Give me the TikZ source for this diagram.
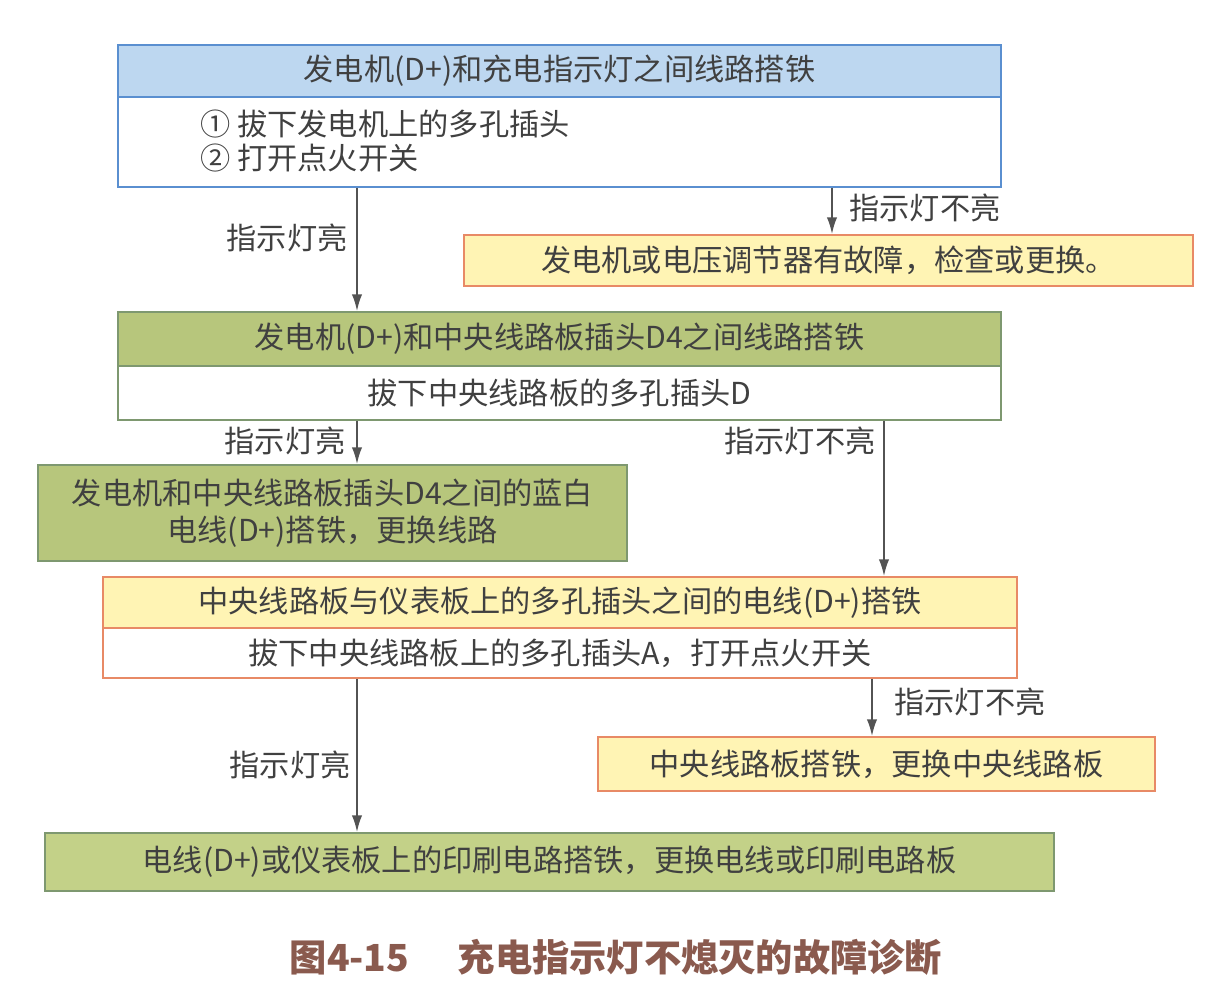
\documentclass[tikz,border=0pt]{standalone}
\usepackage{fontspec}
\setmainfont{Noto Sans CJK SC}
\usetikzlibrary{arrows.meta}
\definecolor{txt}{HTML}{404040}
\definecolor{bluefill}{HTML}{BDD7F0}
\definecolor{blueline}{HTML}{5A8FD0}
\definecolor{greenfill}{HTML}{B7C67C}
\definecolor{greenfillb}{HTML}{C3D188}
\definecolor{greenline}{HTML}{7E9870}
\definecolor{yelfill}{HTML}{FFF4B4}
\definecolor{yelline}{HTML}{E88A66}
\definecolor{capcol}{HTML}{8A5A4E}
\tikzset{
  box/.style={draw, line width=1.3pt, inner sep=0pt, text=txt,
    font=\fontsize{21.5}{26}\selectfont},
  bluebox/.style={box, draw=blueline, fill=bluefill},
  bluebody/.style={box, draw=blueline, fill=white},
  greenbox/.style={box, draw=greenline, fill=greenfill},
  greenbody/.style={box, draw=greenline, fill=white},
  yelbox/.style={box, draw=yelline, fill=yelfill},
  yelbody/.style={box, draw=yelline, fill=white},
  lbl/.style={text=txt, inner sep=0pt, font=\fontsize{21.5}{26}\selectfont},
  arr/.style={draw=txt!90, line width=1.3pt, -{Latex[length=0.42cm,width=0.26cm]}}
}
\begin{document}
\begin{tikzpicture}[x=0.025cm,y=-0.025cm]
\useasboundingbox (0,0) rectangle (1212,996);
% top box
\node[bluebox, minimum width=22.075cm, minimum height=1.3cm] (t1h) at (559.5,71) {发电机(D+)和充电指示灯之间线路搭铁};
\node[bluebody, minimum width=22.075cm, minimum height=2.25cm] (t1b) at (559.5,142) {};
\node[lbl, anchor=west, align=left, font=\fontsize{21.5}{24.8}\selectfont] (t1t) at (200,141) {① 拔下发电机上的多孔插头\\② 打开点火开关};
% yellow 1
\node[yelbox, minimum width=18.225cm, minimum height=1.275cm] (y1) at (828.5,260.5) {发电机或电压调节器有故障，检查或更换。};
% green 1
\node[greenbox, minimum width=22.075cm, minimum height=1.35cm] (g1h) at (559.5,339) {发电机(D+)和中央线路板插头D4之间线路搭铁};
\node[greenbody, minimum width=22.075cm, minimum height=1.35cm] (g1b) at (559.5,393) {拔下中央线路板的多孔插头D};
% green 2
\node[greenbox, minimum width=14.725cm, minimum height=2.4cm, align=center, font=\fontsize{21.5}{26.2}\selectfont] (g2) at (332.5,513) {发电机和中央线路板插头D4之间的蓝白\\电线(D+)搭铁，更换线路};
% yellow 2
\node[yelbox, minimum width=22.85cm, minimum height=1.275cm] (y2h) at (560,602.5) {中央线路板与仪表板上的多孔插头之间的电线(D+)搭铁};
\node[yelbody, minimum width=22.85cm, minimum height=1.25cm] (y2b) at (560,653) {拔下中央线路板上的多孔插头A，打开点火开关};
% yellow 3
\node[yelbox, minimum width=13.925cm, minimum height=1.35cm] (y3) at (876.5,764) {中央线路板搭铁，更换中央线路板};
% green 3
\node[greenbox, fill=greenfillb, minimum width=25.225cm, minimum height=1.45cm] (g3) at (549.5,862) {电线(D+)或仪表板上的印刷电路搭铁，更换电线或印刷电路板};
% arrows
\draw[arr] (t1b.south -| 357,0) -- (g1h.north -| 357,0);
\draw[arr] (t1b.south -| 832,0) -- (y1.north -| 832,0);
\draw[arr] (g1b.south -| 357,0) -- (g2.north -| 357,0);
\draw[arr] (g1b.south -| 884,0) -- (y2h.north -| 884,0);
\draw[arr] (y2b.south -| 357,0) -- (g3.north -| 357,0);
\draw[arr] (y2b.south -| 872,0) -- (y3.north -| 872,0);
% labels
\node[lbl] (l1) at (287,238) {指示灯亮};
\node[lbl] (l2) at (925,208) {指示灯不亮};
\node[lbl] (l3) at (285,441) {指示灯亮};
\node[lbl] (l4) at (800,441) {指示灯不亮};
\node[lbl] (l5) at (290,765) {指示灯亮};
\node[lbl] (l6) at (970,702) {指示灯不亮};
% caption
\node[text=capcol, font=\fontsize{26.5}{30}\selectfont\bfseries] (cap) at (616,957) {图4-15\hspace{1.3em}充电指示灯不熄灭的故障诊断};
\end{tikzpicture}
\end{document}
